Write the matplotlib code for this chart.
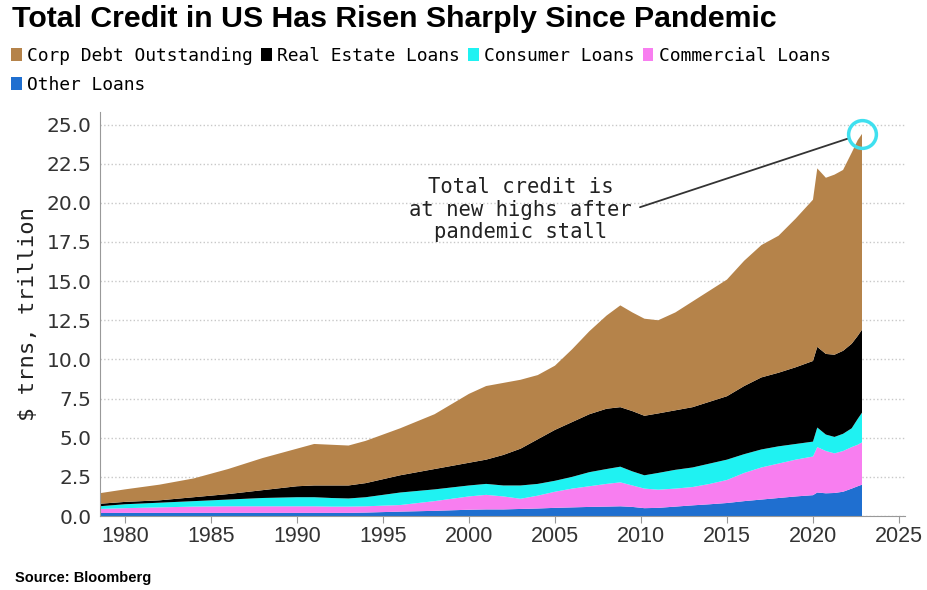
import matplotlib.pyplot as plt
from matplotlib.patches import Patch

# dates (decimal years) and values in $ trillion
dates = [1978.5, 1980, 1982, 1984, 1986, 1988, 1990, 1991, 1992, 1993, 1994,
         1996, 1998, 2000, 2001, 2002, 2003, 2004, 2005, 2006, 2007, 2008,
         2008.8, 2009.5, 2010.2, 2011, 2012, 2013, 2014, 2015, 2016, 2017,
         2018, 2019, 2020.0, 2020.25, 2020.75, 2021.25, 2021.75, 2022.25,
         2022.6, 2022.85]

other_loans = [0.19, 0.20, 0.20, 0.20, 0.20, 0.20, 0.20, 0.20, 0.20, 0.20, 0.22,
               0.28, 0.33, 0.40, 0.42, 0.42, 0.45, 0.48, 0.52, 0.55, 0.58, 0.60,
               0.62, 0.58, 0.50, 0.52, 0.60, 0.68, 0.75, 0.83, 0.95, 1.05,
               1.15, 1.25, 1.33, 1.50, 1.45, 1.47, 1.55, 1.75,
               1.90, 2.00]
commercial = [0.26, 0.30, 0.35, 0.40, 0.42, 0.42, 0.42, 0.42, 0.40, 0.40, 0.40,
              0.42, 0.62, 0.85, 0.93, 0.83, 0.65, 0.82, 1.03, 1.20, 1.32, 1.45,
              1.53, 1.37, 1.25, 1.16, 1.15, 1.17, 1.30, 1.47, 1.80, 2.05,
              2.20, 2.35, 2.47, 2.90, 2.70, 2.53, 2.60, 2.65,
              2.65, 2.70]
consumer = [0.17, 0.25, 0.30, 0.35, 0.43, 0.53, 0.58, 0.58, 0.55, 0.52, 0.58,
            0.80, 0.75, 0.70, 0.70, 0.70, 0.85, 0.75, 0.70, 0.75, 0.90, 0.95,
            1.00, 0.90, 0.85, 1.07, 1.20, 1.25, 1.30, 1.30, 1.20, 1.15,
            1.10, 1.00, 0.95, 1.25, 1.05, 1.05, 1.10, 1.20,
            1.65, 1.90]
real_estate = [0.16, 0.15, 0.15, 0.25, 0.35, 0.50, 0.70, 0.75, 0.80, 0.83, 0.90,
               1.10, 1.30, 1.45, 1.55, 1.95, 2.35, 2.85, 3.25, 3.50, 3.70, 3.85,
               3.80, 3.85, 3.80, 3.80, 3.80, 3.85, 3.95, 4.05, 4.35, 4.60,
               4.70, 4.90, 5.15, 5.15, 5.15, 5.25, 5.30, 5.40,
               5.30, 5.30]
corp_debt = [0.67, 0.80, 1.00, 1.20, 1.60, 2.05, 2.40, 2.65, 2.60, 2.55, 2.70,
             3.00, 3.50, 4.40, 4.70, 4.60, 4.40, 4.10, 4.10, 4.65, 5.30, 5.95,
             6.50, 6.30, 6.20, 5.95, 6.25, 6.75, 7.10, 7.45, 8.00, 8.45,
             8.75, 9.50, 10.30, 11.40, 11.25, 11.50, 11.55, 12.20,
             12.50, 12.50]

colors = {'Corp Debt Outstanding': '#b5834a', 'Real Estate Loans': '#000000',
          'Consumer Loans': '#1ff2f2', 'Commercial Loans': '#f87ef0',
          'Other Loans': '#1f6fd0'}
y_ticks = [0, 2.5, 5, 7.5, 10, 12.5, 15, 17.5, 20, 22.5, 25]
x_ticks = [1980, 1985, 1990, 1995, 2000, 2005, 2010, 2015, 2020, 2025]

mono = ['DejaVu Sans Mono']
narrow = ['Liberation Sans', 'DejaVu Sans']

fig = plt.figure(figsize=(9.27, 5.90), dpi=100, facecolor='white')
ax = fig.add_axes([100 / 927, 1 - 516 / 590, 805 / 927, 404 / 590])

stack_order = ['Other Loans', 'Commercial Loans', 'Consumer Loans',
               'Real Estate Loans', 'Corp Debt Outstanding']
series = {'Other Loans': other_loans, 'Commercial Loans': commercial,
          'Consumer Loans': consumer, 'Real Estate Loans': real_estate,
          'Corp Debt Outstanding': corp_debt}
ax.stackplot(dates, [series[k] for k in stack_order],
             colors=[colors[k] for k in stack_order], linewidth=0)

total = [sum(v) for v in zip(*series.values())]

ax.set_xlim(1978.55, 2025.35)
ax.set_ylim(0, 25.8)
ax.set_yticks(y_ticks)
ax.set_yticklabels(['%.1f' % t for t in y_ticks], fontsize=14.5, color='#333333')
ax.set_xticks(x_ticks)
ax.set_xticklabels([str(t) for t in x_ticks], fontsize=15.5, color='#333333',
                   family=narrow)
ax.grid(axis='y', linestyle=':', color='#c8c8c8', linewidth=1)
ax.set_axisbelow(True)
for s in ['top', 'right']:
    ax.spines[s].set_visible(False)
for s in ['left', 'bottom']:
    ax.spines[s].set_color('#999999')
ax.tick_params(axis='x', color='#999999', length=5, pad=2)
ax.tick_params(axis='y', length=0, pad=6)
ax.set_ylabel('$ trns, trillion', family=mono, fontsize=16, color='#222222',
              labelpad=6)

# highlight latest point
ax.plot(dates[-1], total[-1], 'o', ms=20, mfc='none', mec='#3fe0ef', mew=2.5,
        zorder=5)
ax.annotate('Total credit is\nat new highs after\npandemic stall',
            xy=(dates[-1], total[-1]), xytext=(2003.0, 19.55),
            ha='center', va='center', family=mono, fontsize=14.8,
            color='#222222', linespacing=1.15,
            arrowprops=dict(arrowstyle='-', color='#333333', lw=1.3,
                            shrinkA=4, shrinkB=11, relpos=(1, 0.5)))

fig.text(12 / 927, 1 - 19 / 590, 'Total Credit in US Has Risen Sharply Since Pandemic',
         fontsize=21.8, fontweight='bold', family=narrow, va='center', ha='left')

# legend laid out as rows: column-major order
order = ['Corp Debt Outstanding', 'Other Loans', 'Real Estate Loans',
         'Consumer Loans', 'Commercial Loans']
handles = [Patch(facecolor=colors[k], edgecolor='none', label=k) for k in order]
fig.legend(handles=handles, loc='upper left', ncol=4,
           bbox_to_anchor=(11 / 927, 1 - 47 / 590), frameon=False,
           prop={'family': mono, 'size': 12.9}, handlelength=0.6,
           handleheight=0.75, handletextpad=0.3, columnspacing=0.45,
           labelspacing=0.6, borderpad=0, borderaxespad=0)

fig.text(15 / 927, 1 - 578 / 590, 'Source: Bloomberg', fontsize=10.5,
         fontweight='bold', family=narrow, va='center', ha='left')

fig.savefig('out.png', dpi=100, facecolor='white')
